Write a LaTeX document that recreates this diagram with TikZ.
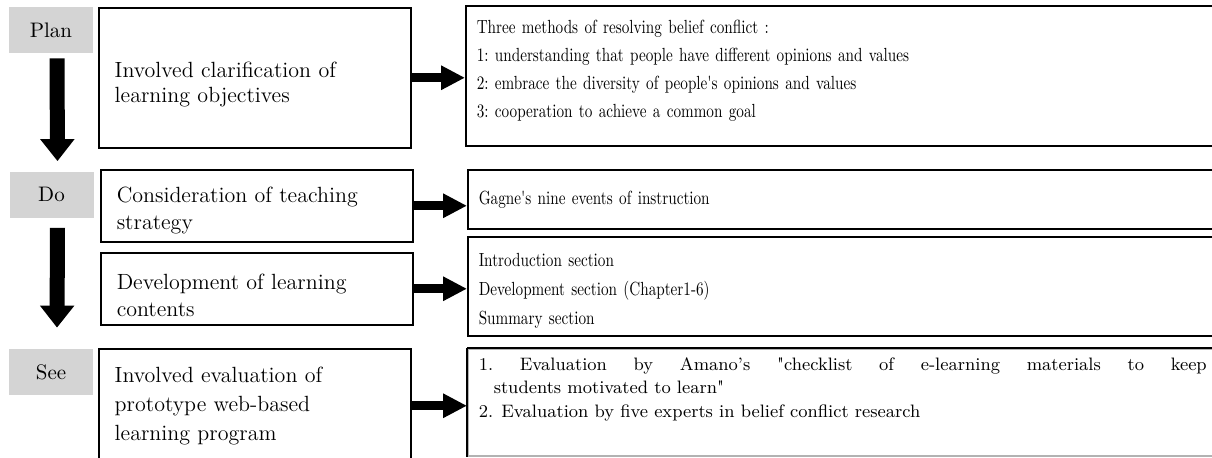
\documentclass[tikz,border=0pt]{standalone}
\usepackage{fontspec}
\newfontfamily\narrowrm{lmroman10-regular.otf}[FakeStretch=0.8]
\usetikzlibrary{arrows.meta}
\definecolor{tagfill}{gray}{0.83}
\tikzset{%
  tipR/.tip={Triangle[length=12pt,width=11.5pt]},
  tipD/.tip={Triangle[length=11pt,width=16.5pt]},
  tag/.style={fill=tagfill, minimum width=42pt, minimum height=23pt, inner sep=0pt,
    font=\fontsize{10.5}{12}\selectfont},
  lbox/.style={draw, line width=0.75pt, anchor=north west, align=left, text width=140pt,
    minimum width=156pt, font=\fontsize{11}{13.5}\selectfont},
  rbox/.style={draw, line width=0.75pt, anchor=north west, align=left, text width=364pt,
    minimum width=375pt, font=\narrowrm\fontsize{9.5}{14.25}\selectfont\frenchspacing},
  stepR/.style={line width=4.5pt, -tipR},
  stepD/.style={line width=7.5pt, -tipD}
}

\begin{document}
\begin{tikzpicture}[x=0.5pt,y=-0.5pt]
\useasboundingbox (0,0) rectangle (1212,457);
% phases
\node[tag] (plan) at (51,30) {Plan};
\node[tag] (do) at (51.5,194.5) {Do};
\node[tag] (see) at (51,372) {See};
% what was done
\node[lbox, minimum height=70pt, font=\fontsize{11}{12.5}\selectfont] (clarify) at (98,7)
  {\rule{0pt}{14.75pt}Involved clarification of\\learning objectives};
\node[lbox, minimum height=36pt] (strategy) at (100,169) {\rule{0pt}{12.5pt}Consideration of teaching\\strategy};
\node[lbox, minimum height=36pt] (contents) at (100,252) {\rule{0pt}{14.3pt}Development of learning\\contents};
\node[lbox, minimum height=57pt, font=\fontsize{11}{14.5}\selectfont] (evaluate) at (98,348)
  {Involved evaluation of\\prototype web-based\\learning program};
% details
\node[rbox, minimum height=70pt, font=\narrowrm\fontsize{9.5}{14}\selectfont\frenchspacing] (methods) at (465,5)
  {Three methods of resolving belief conflict :\\
   1: understanding that people have different opinions and values\\
   2: embrace the diversity of people's opinions and values\\
   3: cooperation to achieve a common goal\rule[-7pt]{0pt}{0pt}};
\node[rbox, minimum height=29.5pt] (gagne) at (467,169) {Gagne's nine events of instruction};
\node[rbox, minimum height=49.5pt, font=\narrowrm\fontsize{9.5}{14.5}\selectfont] (sections) at (467,236)
  {\rule{0pt}{11.6pt}Introduction section\\Development section (Chapter1-6)\\Summary section};
\node[rbox, minimum height=53.5pt, draw=black!30, align=justify, font=\fontsize{9}{11.75}\selectfont] (checks) at (467,348)
  {\hangindent=7.5pt\hangafter=1 1.~Evaluation by Amano's \textquotedbl checklist of e-learning materials to keep\linebreak
   students motivated to learn\textquotedbl\par
   2. Evaluation by five experts in belief conflict research\rule[-15.2pt]{0pt}{0pt}};
\draw[black, line width=0.75pt] (checks.north west) -- (checks.north east)
  (checks.north west) -- (checks.south west);
% flow
\draw[stepD] ([xshift=3pt,yshift=-2.5pt]plan.south) -- ([xshift=3pt,yshift=5pt]do.north);
\draw[stepD] ([xshift=3pt,yshift=-5pt]do.south) -- ([xshift=3pt,yshift=10.5pt]see.north);
\draw[stepR] (clarify.east) -- (clarify.east -| methods.west);
\draw[stepR] (strategy.east) -- (strategy.east -| gagne.west);
\draw[stepR] (contents.east) -- (contents.east -| sections.west);
\draw[stepR] (evaluate.east) -- (evaluate.east -| checks.west);
\end{tikzpicture}
\end{document}
